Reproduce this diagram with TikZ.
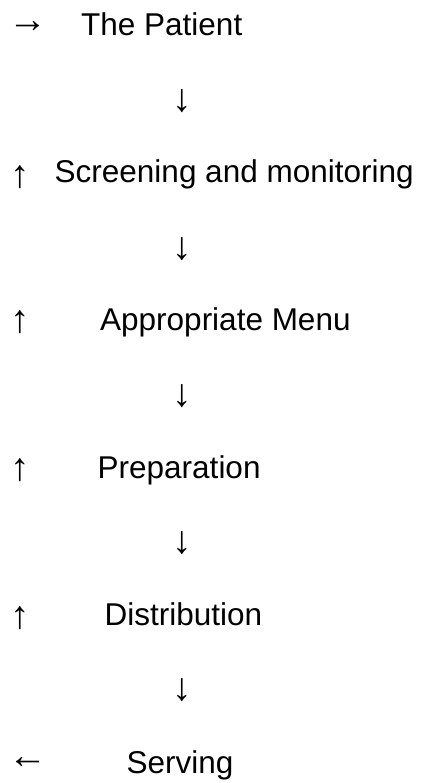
\documentclass[tikz,border=0pt]{standalone}
\usepackage{fontspec}
\setmainfont{Liberation Sans}
\newfontfamily\arrowfont{Liberation Serif}

\begin{document}
\begin{tikzpicture}[x=1pt,y=-1pt,
	stage/.style={anchor=base west,inner sep=0pt,font=\fontsize{31.5}{36}\selectfont},
	arr/.style={inner sep=0pt,font=\arrowfont\fontsize{39}{44}\selectfont}]
\useasboundingbox (0,0) rectangle (423,783);
\node[arr] (in) at (28,27) {→};
\node[stage] (patient) at (81,36) {The Patient};
\node[arr] (d1) at (182,101) {↓};
\node[arr] (up1) at (20,177) {↑};
\node[stage] (screening) at (54.5,183) {Screening and monitoring};
\node[arr] (d2) at (182,249) {↓};
\node[arr] (up2) at (20,322) {↑};
\node[stage] (menu) at (100,330) {Appropriate Menu};
\node[arr] (d3) at (182,396) {↓};
\node[arr] (up3) at (20,470) {↑};
\node[stage] (prep) at (97.5,478) {Preparation};
\node[arr] (d4) at (182,543) {↓};
\node[arr] (up4) at (20,618) {↑};
\node[stage] (distrib) at (104.5,625) {Distribution};
\node[arr] (d5) at (182,690) {↓};
\node[arr] (out) at (28,763) {←};
\node[stage] (serving) at (126.5,773) {Serving};
\end{tikzpicture}
\end{document}
